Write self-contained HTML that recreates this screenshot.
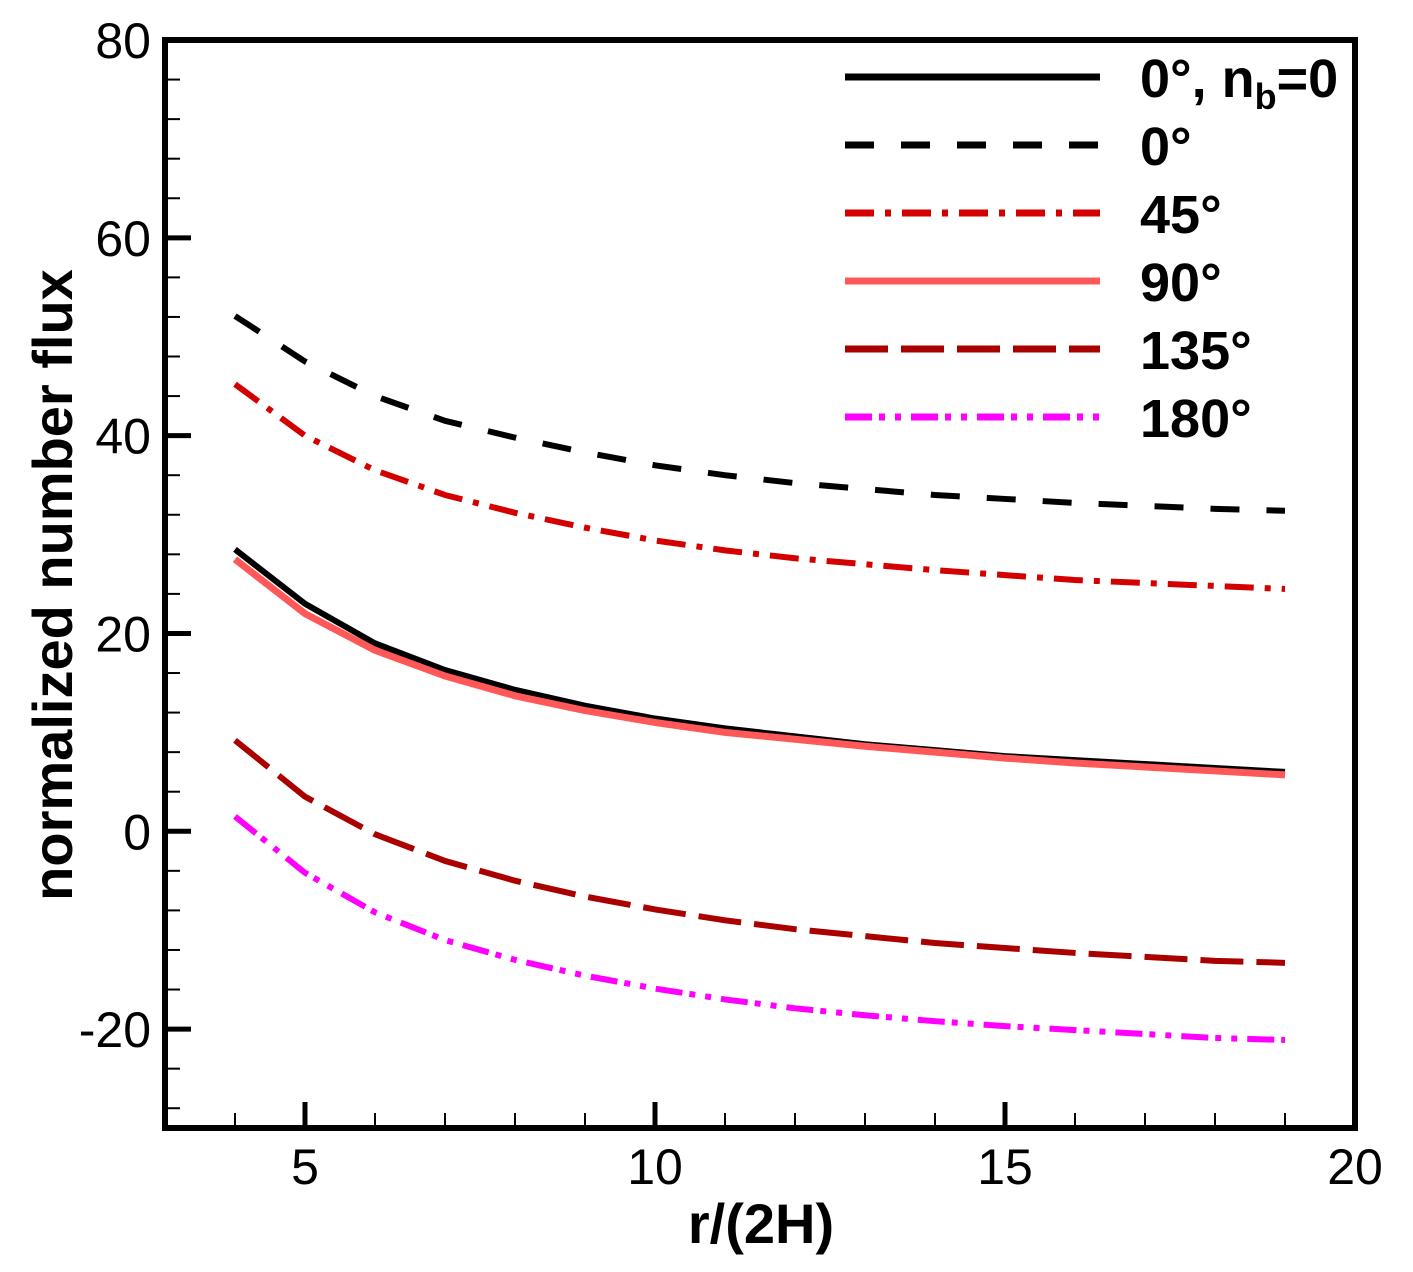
<!DOCTYPE html>
<html><head><meta charset="utf-8"><style>
html,body{margin:0;padding:0;background:#fff;}
svg{display:block;font-family:"Liberation Sans",sans-serif;}
</style></head><body>
<svg id="chart" width="1413" height="1272" viewBox="0 0 1413 1272">
<g id="marks"></g>
<g id="axes"></g>
<g id="legend"></g>
</svg>
<script>
const xValues = [4,5,6,7,8,9,10,11,12,13,14,15,16,17,18,19];
const seriesNames = ["0°, n_b=0","0°","45°","90°","135°","180°"];
const s0nb = [28.5,23,19,16.3,14.3,12.7,11.4,10.4,9.6,8.8,8.2,7.6,7.2,6.8,6.4,6.0];
const s0 = [52.1,47.5,44,41.5,39.8,38.3,37,36,35.2,34.6,34,33.6,33.2,32.9,32.6,32.4];
const s45 = [45.2,40,36.5,34,32.2,30.7,29.4,28.4,27.6,27,26.4,25.9,25.4,25.1,24.8,24.5];
const s90 = [27.5,22,18.3,15.7,13.7,12.2,11,10,9.3,8.6,8,7.4,6.9,6.5,6.1,5.7];
const s135 = [9.2,3.5,-0.3,-3,-5,-6.6,-7.9,-9,-9.9,-10.6,-11.3,-11.8,-12.3,-12.7,-13.1,-13.3];
const s180 = [1.5,-4.2,-8.2,-11,-13,-14.6,-15.9,-17,-17.9,-18.6,-19.2,-19.7,-20.1,-20.5,-20.9,-21.1];
const xTicks = [5,10,15,20];
const yTicks = [-20,0,20,40,60,80];

const NS="http://www.w3.org/2000/svg";
const L=165,R=1355,T=40,B=1128;
const xMin=3,xMax=20,yMin=-30,yMax=80;
const sx=v=>L+(v-xMin)/(xMax-xMin)*(R-L);
const sy=v=>B-(v-yMin)/(yMax-yMin)*(B-T);
function mk(tag,attrs,parent){const e=document.createElementNS(NS,tag);for(const k in attrs)e.setAttribute(k,attrs[k]);parent.appendChild(e);return e;}
const marks=document.getElementById('marks'),axes=document.getElementById('axes'),legend=document.getElementById('legend');
const styles=[
 {c:"#000",d:"",w:6},
 {c:"#000",d:"29 27",w:6},
 {c:"#d40000",d:"29 11 6 11",w:6},
 {c:"#ff5858",d:"",w:7},
 {c:"#aa0000",d:"43 13",w:6},
 {c:"#ff00ff",d:"27 7 6 10 6 10",w:6}
];
const allSeries=[s0nb,s0,s45,s90,s135,s180];
const seriesKeys=["series-0-nb0","series-0","series-45","series-90","series-135","series-180"];
allSeries.forEach((s,i)=>{
 const p=mk('polyline',{points:s.map((v,j)=>sx(xValues[j])+','+sy(v)).join(' '),fill:'none',stroke:styles[i].c,'stroke-width':styles[i].w,'stroke-dasharray':styles[i].d,'stroke-linejoin':'round'},marks);
 
 
});
const fr=mk('rect',{x:L,y:T,width:R-L,height:B-T,fill:'none',stroke:'#000','stroke-width':6},axes);


for(let v=4;v<=19;v++){const maj=xTicks.includes(v);mk('line',{x1:sx(v),x2:sx(v),y1:B,y2:B-(maj?26:15),stroke:'#000','stroke-width':maj?5:2},axes);}
xTicks.forEach(v=>{const t=mk('text',{x:sx(v),y:B+56,'font-size':50,'text-anchor':'middle'},axes);t.textContent=v;
 
 });
for(let v=-28;v<=80;v+=4){const maj=yTicks.includes(v);mk('line',{x1:L,x2:L+(maj?26:15),y1:sy(v),y2:sy(v),stroke:'#000','stroke-width':maj?5:2},axes);}
yTicks.forEach(v=>{const t=mk('text',{x:L-14,y:sy(v)+18,'font-size':50,'text-anchor':'end'},axes);t.textContent=v;
 
 });
const xt=mk('text',{x:761,y:1243,'font-size':56,'font-weight':'bold','text-anchor':'middle'},axes);xt.textContent='r/(2H)';


const yt=mk('text',{x:0,y:0,'font-size':56,'font-weight':'bold','text-anchor':'middle',transform:'translate(72,585) rotate(-90)'},axes);yt.textContent='normalized number  flux';


const labels=[null,"0°","45°","90°","135°","180°"];
for(let i=0;i<6;i++){
 const y=77+i*68;
 const ln=mk('line',{x1:845,x2:1100,y1:y,y2:y,stroke:styles[i].c,'stroke-width':7,'stroke-dasharray':styles[i].d},legend);
 
 
 const t=mk('text',{x:1140,y:y+20,'font-size':54,'font-weight':'bold'},legend);
 if(i===0){t.innerHTML='0°, n<tspan font-size="36" dy="12">b</tspan><tspan dy="-12">=0</tspan>';}
 else t.textContent=labels[i];
 
 
}
</script>
</body></html>
